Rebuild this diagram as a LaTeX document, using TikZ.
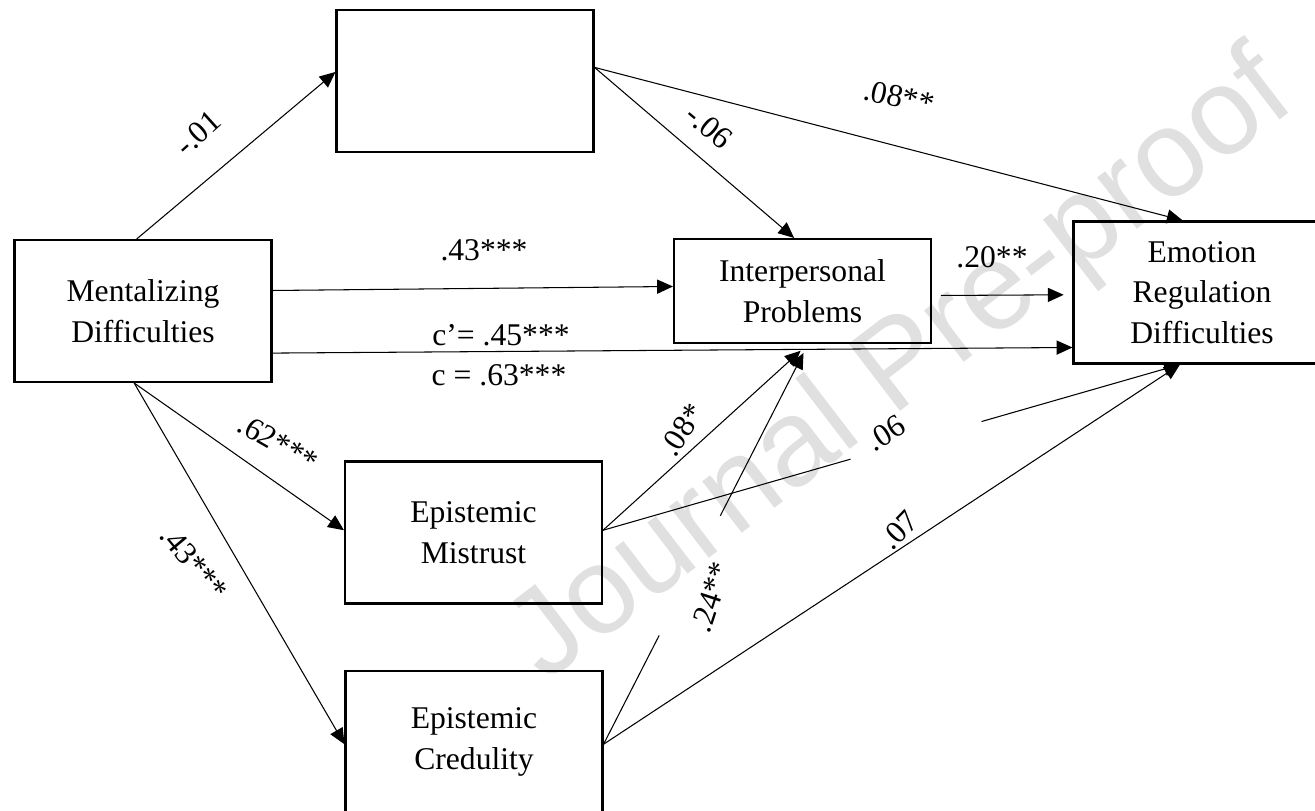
\documentclass[tikz,border=0pt]{standalone}
\usepackage{fontspec}
\setmainfont{Liberation Serif}
\newfontfamily\wmfont{Liberation Sans}
\usetikzlibrary{arrows.meta,calc}
\definecolor{wmgray}{RGB}{224,224,224}
\begin{document}
\begin{tikzpicture}[x=0.02cm,y=-0.02cm,
  every node/.style={font=\fontsize{18}{23}\selectfont},
  box/.style={draw, line width=1.2pt, minimum width=5.14cm, minimum height=2.84cm, inner sep=0pt, align=center},
  link/.style={draw, line width=0.6pt},
  arr/.style={link, -{Triangle[length=9pt,width=8pt]}},
  lbl/.style={inner sep=0pt}]
\useasboundingbox (0,0) rectangle (1315,811);
\node[text=wmgray, font=\wmfont\fontsize{70}{70}\selectfont, rotate=37.5, anchor=base west, inner sep=0pt] (wm) at (545,684) {Journal Pre-proof};

\node[box] (md) at (143,311) {Mentalizing\\Difficulties};
\node[box] (ex) at (465,81) {};
\node[box, minimum height=2.08cm] (ip) at (802.5,291) {Interpersonal\\Problems};
\node[box] (erd) at (1202,292.5) {Emotion\\Regulation\\Difficulties};
\node[box] (em) at (473.5,532.5) {Epistemic\\Mistrust};
\node[box] (ec) at (474,742) {Epistemic\\Credulity};

\path[arr] (md.95) -- (ex.176);
\path[arr] (ex.6) -- (ip.99);
\path[arr] (ex.6) -- (erd.105);
\path[arr] (md.9) -- (ip.178);
\path[arr] (md.-18) -- (erd.203);
\path[arr, shorten <=5pt, shorten >=5pt] (ip.-2) -- (erd.181);
\path[arr] (md.263) -- (em.179);
\path[arr] (md.263) -- (ec.181);
\path[arr, shorten >=5.7pt] (em.1) -- (ip.276);
\path[link] (em.1) -- ($(em.1)!0.429!(erd.253)$);
\path[arr] ($(em.1)!0.656!(erd.253)$) -- (erd.253);
\path[link] (ec.-1) -- ($(ec.-1)!0.272!(ip.276)$);
\path[arr, shorten >=5.7pt] ($(ec.-1)!0.571!(ip.276)$) -- (ip.276);
\path[arr] (ec.-1) -- (erd.253);

\node[lbl, rotate=42] (l1) at (198,133) {-.01};
\node[lbl, rotate=-40] (l2) at (709,127) {-.06};
\node[lbl, rotate=-12] (l3) at (899,97) {.08**};
\node[lbl] (l4) at (484,250) {.43***};
\node[lbl] (l5) at (501,335) {c’= .45***};
\node[lbl] (l6) at (499,375) {c = .63***};
\node[lbl] (l7) at (992,257) {.20**};
\node[lbl, rotate=-30] (l8) at (278,443) {.62***};
\node[lbl, rotate=-50] (l9) at (194,563) {.43***};
\node[lbl, rotate=57] (l10) at (682,430) {.08*};
\node[lbl, rotate=32] (l11) at (886,433) {.06};
\node[lbl, rotate=72] (l12) at (711,597) {.24**};
\node[lbl, rotate=46] (l13) at (899,530) {.07};
\end{tikzpicture}
\end{document}
